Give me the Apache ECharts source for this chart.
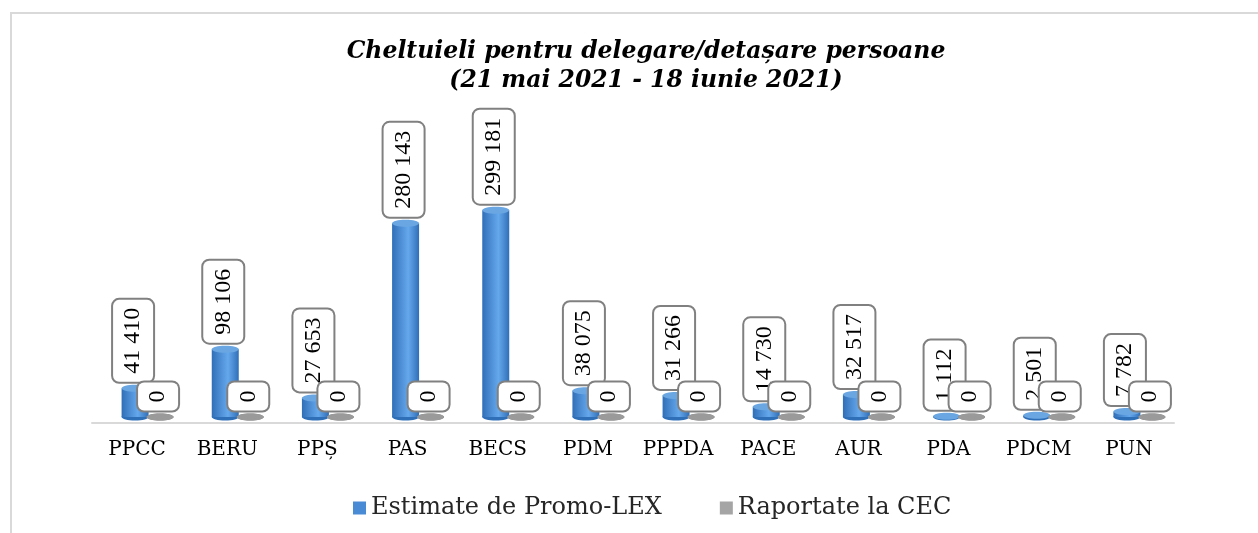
<!DOCTYPE html>
<html>
<head>
<meta charset="utf-8">
<script src="https://cdn.jsdelivr.net/npm/echarts@6/dist/echarts.min.js"></script>
<style>
  html, body { margin: 0; padding: 0; background: #fff; }
  #main { width: 1258px; height: 533px; }
</style>
</head>
<body>
<div id="main"></div>
<script>
// partide
let categories = ['PPCC', 'BERU', 'PPȘ', 'PAS', 'BECS', 'PDM', 'PPPDA', 'PACE', 'AUR', 'PDA', 'PDCM', 'PUN'];
// sume estimate / raportate (lei)
let estimate = [41410, 98106, 27653, 280143, 299181, 38075, 31266, 14730, 32517, 1112, 2501, 7782];
let raportate = [0, 0, 0, 0, 0, 0, 0, 0, 0, 0, 0, 0];
let seriesNames = ['Estimate de Promo-LEX', 'Raportate la CEC'];

let fmt = function (v) {
    return String(v).replace(/\B(?=(\d{3})+(?!\d))/g, ' ');
};

let labelStyle = function (text) {
    return {
        text: text,
        font: '24px "Liberation Serif"',
        lineHeight: 26,
        fill: '#000',
        align: 'left',
        verticalAlign: 'middle',
        backgroundColor: '#fff',
        borderColor: '#808080',
        borderWidth: 2,
        borderRadius: 6,
        padding: [7, 8, 7, 8]
    };
};

// cilindru 3D simplificat
let cylinder = function (colors, shift, labelShift) {
    return function (params, api) {
        let i = api.value(0), v = api.value(1);
        let base = api.coord([i, 0]);
        let top = api.coord([i, v]);
        let cx = base[0] + shift;
        let y0 = base[1] - 6, y1 = top[1] - 6;
        let w = 27, ry = 3.5;
        return {
            type: 'group',
            children: [
                { type: 'ellipse', shape: { cx: cx, cy: y0, rx: w / 2, ry: ry }, style: { fill: colors[0] } },
                {
                    type: 'rect',
                    shape: { x: cx - w / 2, y: y1, width: w, height: y0 - y1 },
                    style: {
                        fill: new echarts.graphic.LinearGradient(0, 0, 1, 0, [
                            { offset: 0, color: colors[0] },
                            { offset: 0.6, color: colors[1] },
                            { offset: 1, color: colors[0] }
                        ])
                    }
                },
                { type: 'ellipse', shape: { cx: cx, cy: y1, rx: w / 2, ry: ry }, style: { fill: colors[2] } },
                {
                    type: 'text', x: cx + labelShift, y: y1 - ry - 3, rotation: Math.PI / 2, z2: 10,
                    style: labelStyle(fmt(v))
                }
            ]
        };
    };
};

let myChart = echarts.init(document.getElementById('main'));

let option = {
    backgroundColor: '#fff',
    title: {
        text: 'Cheltuieli pentru delegare/detașare persoane\n(21 mai 2021 - 18 iunie 2021)',
        left: 641,
        top: 32,
        textAlign: 'center',
        textStyle: {
            fontFamily: 'DejaVu Serif',
            fontStyle: 'italic',
            fontWeight: 'bold',
            fontSize: 23.5,
            lineHeight: 29,
            color: '#000'
        }
    },
    graphic: [{
        type: 'rect',
        shape: { x: 11, y: 13, width: 1400, height: 700 },
        style: { fill: 'none', stroke: '#d9d9d9', lineWidth: 2 },
        silent: true
    }],
    legend: {
        data: seriesNames,
        left: 348,
        top: 491,
        icon: 'rect',
        itemWidth: 13,
        itemHeight: 13,
        itemGap: 58,
        textStyle: { fontFamily: 'DejaVu Serif', fontSize: 24, color: '#262626' }
    },
    grid: { left: 92, right: 84, top: 181, bottom: 110 },
    xAxis: {
        type: 'category',
        data: categories,
        axisLine: { lineStyle: { color: '#d9d9d9', width: 2 } },
        axisTick: { show: false },
        axisLabel: { interval: 0, fontFamily: 'DejaVu Serif', fontSize: 20, color: '#000', margin: 17 }
    },
    yAxis: {
        type: 'value',
        min: 0,
        max: 350000,
        show: false,
        splitLine: { show: false }
    },
    series: [
        {
            name: seriesNames[0],
            type: 'custom',
            itemStyle: { color: '#4a8bd6' },
            data: estimate.map(function (v, i) { return [i, v]; }),
            renderItem: cylinder(['#2f6fb8', '#66a8ec', '#6aa6e2'], -2, -2)
        },
        {
            name: seriesNames[1],
            type: 'custom',
            itemStyle: { color: '#a5a5a5' },
            data: raportate.map(function (v, i) { return [i, v]; }),
            renderItem: cylinder(['#7f7f7f', '#a5a5a5', '#9a9a9a'], 23, -2)
        }
    ]
};

myChart.setOption(option);
</script>
</body>
</html>
